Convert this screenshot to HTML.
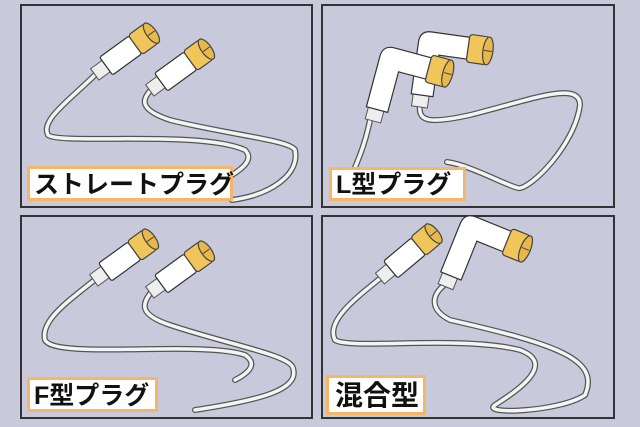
<!DOCTYPE html>
<html><head><meta charset="utf-8"><style>
html,body{margin:0;padding:0;background:#c9c9dc;}
body{width:640px;height:427px;position:relative;overflow:hidden;font-family:"Liberation Sans","Noto Sans CJK JP",sans-serif;}
.lab{position:absolute;background:#fff;border:3px solid #f5b66a;font-weight:bold;color:#111;box-sizing:border-box;line-height:1;white-space:nowrap;}
</style></head><body>
<svg width="640" height="427" style="position:absolute;left:0;top:0">
<defs>
<g id="plug">
 <rect x="-4" y="-7" width="14" height="14" fill="#eee" stroke="#555" stroke-width="1"/>
 <rect x="10" y="-11" width="36" height="22" rx="2" fill="#fff" stroke="#333" stroke-width="1.2"/>
 <rect x="46" y="-12" width="20" height="24" rx="3" fill="#f0c55a" stroke="#444" stroke-width="1.2"/>
 <ellipse cx="66" cy="0" rx="5" ry="12" fill="#e8b84a" stroke="#444" stroke-width="1.2"/>
 <line x1="62" y1="0" x2="70" y2="0" stroke="#444"/>
</g>
<g id="lplug">
 <rect x="-8" y="-8" width="16" height="12" fill="#eee" stroke="#555"/>
 <path d="M-10,-8 L-10,-60 Q-10,-72 2,-72 L40,-72 L40,-50 L12,-50 L12,-8 Z" fill="#fff" stroke="#333" stroke-width="1.2"/>
 <rect x="40" y="-75" width="20" height="28" rx="3" fill="#f0c55a" stroke="#444" stroke-width="1.2"/>
 <ellipse cx="60" cy="-61" rx="5" ry="14" fill="#e8b84a" stroke="#444" stroke-width="1.2"/>
 <line x1="56" y1="-61" x2="64" y2="-61" stroke="#444"/>
</g>
</defs>
<g fill="#c9c9dc" stroke="#333" stroke-width="2">
<rect x="21" y="5" width="291" height="202"/>
<rect x="322" y="5" width="292" height="202"/>
<rect x="21" y="216" width="291" height="202"/>
<rect x="322" y="216" width="292" height="202"/>
</g>
<g fill="none" stroke-linecap="round">
 <g id="cables" stroke="#555" stroke-width="6">
  <path d="M98,72 C70,100 40,120 48,135 C60,145 200,130 245,150 C255,160 240,170 232,175"/>
  <path d="M153,88 C140,100 140,110 170,120 C230,135 290,140 295,150 C300,175 270,195 232,200"/>
  <path d="M370,120 C365,145 358,160 352,175"/>
  <path d="M420,104 C418,120 425,125 470,115 C530,100 580,80 580,105 C575,145 530,190 518,188 C505,185 470,165 447,162"/>
  <path d="M97,278 C70,300 40,320 45,340 C55,360 200,340 245,355 C260,365 245,375 235,380"/>
  <path d="M153,290 C140,305 140,315 170,325 C230,345 290,355 293,368 C300,390 260,400 195,410"/>
  <path d="M383,276 C360,295 325,320 335,340 C350,350 460,335 520,350 C560,365 510,395 495,405 C480,415 560,412 585,395 C600,360 560,345 450,320 C430,310 430,295 447,283"/>
 </g>
 <g stroke="#f4f4f4" stroke-width="3.5">
  <path d="M98,72 C70,100 40,120 48,135 C60,145 200,130 245,150 C255,160 240,170 232,175"/>
  <path d="M153,88 C140,100 140,110 170,120 C230,135 290,140 295,150 C300,175 270,195 232,200"/>
  <path d="M370,120 C365,145 358,160 352,175"/>
  <path d="M420,104 C418,120 425,125 470,115 C530,100 580,80 580,105 C575,145 530,190 518,188 C505,185 470,165 447,162"/>
  <path d="M97,278 C70,300 40,320 45,340 C55,360 200,340 245,355 C260,365 245,375 235,380"/>
  <path d="M153,290 C140,305 140,315 170,325 C230,345 290,355 293,368 C300,390 260,400 195,410"/>
  <path d="M383,276 C360,295 325,320 335,340 C350,350 460,335 520,350 C560,365 510,395 495,405 C480,415 560,412 585,395 C600,360 560,345 450,320 C430,310 430,295 447,283"/>
 </g>
</g>
<use href="#plug" transform="translate(98,72) rotate(-36)"/>
<use href="#plug" transform="translate(153,88) rotate(-36)"/>
<use href="#lplug" transform="translate(420,103) rotate(8)"/>
<use href="#lplug" transform="translate(374,117) rotate(15)"/>
<use href="#plug" transform="translate(97,278) rotate(-36)"/>
<use href="#plug" transform="translate(153,290) rotate(-36)"/>
<use href="#plug" transform="translate(383,276) rotate(-40)"/>
<use href="#lplug" transform="translate(447,283) rotate(22)"/>
</svg>
<div class="lab" style="left:27px;top:166px;width:206px;height:35px;font-size:25px;padding:4px 0 0 4px;">ストレートプラグ</div>
<div class="lab" style="left:329px;top:167px;width:137px;height:34px;font-size:25px;padding:3px 0 0 4px;">L型プラグ</div>
<div class="lab" style="left:27px;top:377px;width:131px;height:35px;font-size:25px;padding:4px 0 0 4px;">F型プラグ</div>
<div class="lab" style="left:326px;top:375px;width:100px;height:40px;font-size:28px;padding:4px 0 0 6px;">混合型</div>
</body></html>
